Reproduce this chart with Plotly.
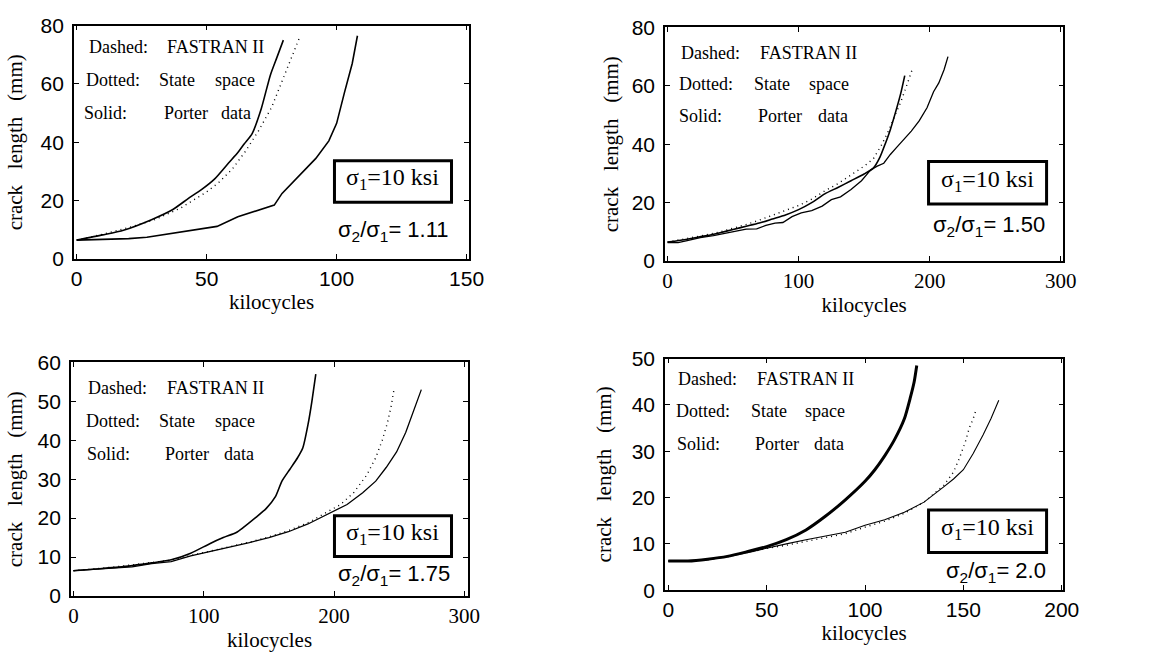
import plotly.graph_objects as go

# ---------------- data (kilocycles, crack length in mm) ----------------
# sigma2/sigma1 = 1.11
p1_fastran_x = [0, 10, 18, 29, 37, 43, 48, 53, 58.5, 62, 64.5, 67.5, 71, 74.5, 77, 79.5]
p1_fastran_y = [6.5, 8.3, 9.9, 13.6, 17.0, 20.8, 23.8, 27.4, 33.0, 36.5, 39.5, 43.0, 51.5, 63.0, 69.0, 75.0]
p1_state_x = [0, 10, 20, 30, 40, 50, 55, 60, 65, 70, 75, 80, 83, 86]
p1_state_y = [6.5, 8.5, 10.8, 13.5, 17.5, 23.0, 26.5, 31.0, 37.0, 44.0, 52.0, 63.0, 70.0, 76.5]
p1_porter_x = [0, 10, 20, 27, 33, 41, 47, 54, 62, 69, 76, 79, 85, 92, 97, 100, 103, 106, 108]
p1_porter_y = [6.5, 6.8, 7.0, 7.5, 8.3, 9.6, 10.4, 11.2, 14.5, 16.5, 18.5, 22.5, 28.0, 34.5, 40.5, 46.5, 57.0, 67.0, 76.5]

# sigma2/sigma1 = 1.50
p2_fastran_x = [0, 10, 20, 30, 40, 50, 60, 70, 80, 90, 100, 110, 120, 130, 140, 150, 157, 162, 166, 170, 174, 178, 181]
p2_fastran_y = [6.5, 7.1, 7.9, 8.7, 9.7, 10.8, 11.9, 13.0, 14.4, 15.8, 17.6, 20.0, 23.0, 25.2, 27.5, 29.8, 31.8, 35.5, 40.0, 45.0, 51.0, 57.5, 63.5]
p2_state_x = [0, 10, 20, 30, 40, 50, 60, 70, 80, 90, 100, 110, 120, 130, 140, 150, 157, 163, 168, 173, 178, 182, 185, 187]
p2_state_y = [6.5, 7.3, 8.1, 9.0, 10.0, 11.2, 12.5, 14.0, 15.6, 17.2, 19.0, 21.2, 24.0, 26.5, 29.5, 32.5, 35.0, 39.5, 44.0, 49.0, 54.5, 59.5, 63.0, 66.0]
p2_porter_x = [0, 8, 15, 25, 35, 45, 52, 60, 68, 75, 82, 88, 95, 102, 110, 118, 125, 132, 140, 148, 155, 160, 165, 170, 175, 180, 186, 192, 198, 203, 207, 211, 214]
p2_porter_y = [6.3, 6.3, 7.0, 8.0, 8.7, 9.5, 10.3, 10.9, 11.0, 12.2, 13.0, 13.2, 15.2, 16.5, 17.3, 18.8, 21.0, 22.0, 24.5, 27.5, 31.2, 32.5, 33.5, 36.5, 39.0, 41.5, 44.5, 48.0, 52.5, 58.0, 61.0, 65.5, 70.0]

# sigma2/sigma1 = 1.75
p3_fastran_x = [0, 20, 40, 60, 75, 90, 105, 115, 125, 130, 140, 148, 155, 160, 166, 172, 176, 180, 183, 186]
p3_fastran_y = [6.5, 7.0, 7.6, 8.5, 9.3, 11.0, 13.5, 15.0, 16.3, 17.5, 20.2, 22.5, 25.5, 29.5, 32.5, 35.5, 38.0, 44.0, 50.0, 57.0]
p3_state_x = [0, 15, 30, 45, 60, 75, 90, 105, 120, 135, 150, 165, 180, 195, 205, 215, 225, 232, 237, 241, 244, 246]
p3_state_y = [6.5, 6.9, 7.4, 8.0, 8.6, 9.2, 10.4, 11.5, 12.6, 13.8, 15.2, 16.8, 18.8, 21.5, 23.5, 26.5, 31.0, 35.5, 40.0, 44.5, 49.0, 53.0]
p3_porter_x = [0, 15, 30, 45, 60, 75, 90, 105, 120, 135, 150, 165, 180, 195, 210, 222, 232, 240, 248, 255, 260, 264, 267]
p3_porter_y = [6.5, 6.8, 7.1, 7.5, 8.3, 8.8, 10.3, 11.4, 12.5, 13.7, 15.0, 16.5, 18.5, 21.0, 23.5, 26.5, 29.5, 33.0, 37.0, 42.0, 46.5, 50.0, 53.0]

# sigma2/sigma1 = 2.0
p4_fastran_x = [0, 10, 20, 30, 40, 50, 60, 70, 80, 90, 100, 105, 110, 115, 120, 123, 125, 126.3]
p4_fastran_y = [6.3, 6.3, 6.7, 7.3, 8.3, 9.4, 10.9, 13.0, 16.0, 19.5, 23.5, 26.0, 29.0, 32.5, 37.0, 41.5, 45.0, 48.5]
p4_state_x = [0, 10, 20, 30, 40, 50, 60, 70, 80, 90, 100, 110, 120, 130, 140, 145, 148, 151, 153, 155, 156.5]
p4_state_y = [6.3, 6.3, 6.6, 7.2, 8.1, 9.0, 9.7, 10.5, 11.4, 12.2, 13.6, 14.9, 16.6, 19.0, 22.6, 25.5, 28.5, 32.0, 35.0, 37.0, 39.0]
p4_porter_x = [0, 10, 20, 30, 40, 50, 60, 70, 80, 90, 100, 110, 120, 130, 140, 145, 150, 155, 160, 164, 168]
p4_porter_y = [6.3, 6.3, 6.6, 7.2, 8.1, 9.1, 10.0, 10.9, 11.7, 12.5, 14.0, 15.2, 16.8, 19.0, 22.3, 24.0, 26.0, 29.5, 33.5, 37.0, 41.0]

stress_ratios = ["1.11", "1.50", "1.75", "2.0"]
x_ticks = [[0, 50, 100, 150], [0, 100, 200, 300], [0, 100, 200, 300], [0, 50, 100, 150, 200]]
y_ticks = [[0, 20, 40, 60, 80], [0, 20, 40, 60, 80], [0, 10, 20, 30, 40, 50, 60], [0, 10, 20, 30, 40, 50]]

# ---------------- layout helpers ----------------
W, H = 1157, 662
SERIF = "Liberation Serif, Times New Roman, serif"
SANS = "Liberation Sans, Arial, sans-serif"
GAP = "\u00a0" * 3
Y_TITLE = "crack" + GAP + "length" + GAP + "(mm)"


def fx(p):
    return p / W


def fy(p):
    return 1 - p / H


panels = [
    dict(box=(72, 474, 14, 256), xr=[-1.1, 151], yr=[0, 80], xfont=SANS, yfont=SANS,
         fastran=(p1_fastran_x, p1_fastran_y), state=(p1_state_x, p1_state_y), porter=(p1_porter_x, p1_porter_y),
         fw=1.6, pw=1.6, ystand=12,
         words=[("Dashed:", 85, 36), ("FASTRAN II", 165, 36), ("Dotted:", 82, 70), ("State", 157, 70),
                ("space", 213, 70), ("Solid:", 80, 105), ("Porter", 162, 105), ("data", 220, 105)],
         sbox=(337, 456, 154, 197), ratio_xy=(397, 227)),
    dict(box=(673, 1078, 16, 258), xr=[-2, 302], yr=[0, 80], xfont=SERIF, yfont=SANS,
         fastran=(p2_fastran_x, p2_fastran_y), state=(p2_state_x, p2_state_y), porter=(p2_porter_x, p2_porter_y),
         fw=1.6, pw=1.3, ystand=7,
         words=[("Dashed:", 687, 42), ("FASTRAN II", 768, 42), ("Dotted:", 685, 75), ("State", 761, 75),
                ("space", 817, 75), ("Solid:", 685, 108), ("Porter", 766, 108), ("data", 827, 108)],
         sbox=(941, 1061, 155, 199), ratio_xy=(1002, 222)),
    dict(box=(69, 473, 363, 605), xr=[-2, 303], yr=[0, 60], xfont=SERIF, yfont=SANS,
         fastran=(p3_fastran_x, p3_fastran_y), state=(p3_state_x, p3_state_y), porter=(p3_porter_x, p3_porter_y),
         fw=1.6, pw=1.3, ystand=9,
         words=[("Dashed:", 84, 390), ("FASTRAN II", 165, 390), ("Dotted:", 82, 424), ("State", 157, 424),
                ("space", 213, 424), ("Solid:", 83, 458), ("Porter", 163, 458), ("data", 223, 458)],
         sbox=(337, 456, 522, 564), ratio_xy=(398, 583)),
    dict(box=(673, 1078, 359, 599), xr=[-1.7, 200.8], yr=[0, 50], xfont=SANS, yfont=SANS,
         fastran=(p4_fastran_x, p4_fastran_y), state=(p4_state_x, p4_state_y), porter=(p4_porter_x, p4_porter_y),
         fw=3.0, pw=1.1, ystand=14,
         words=[("Dashed:", 684, 380), ("FASTRAN II", 765, 380), ("Dotted:", 682, 413), ("State", 758, 413),
                ("space", 813, 413), ("Solid:", 683, 448), ("Porter", 763, 448), ("data", 823, 448)],
         sbox=(941, 1061, 516, 560), ratio_xy=(1010, 580)),
]

fig = go.Figure()
layout = dict(
    width=W, height=H, margin=dict(l=0, r=0, t=0, b=0),
    paper_bgcolor="white", plot_bgcolor="white", showlegend=False,
)
annotations = []
shapes = []

for i, p in enumerate(panels):
    n = "" if i == 0 else str(i + 1)
    xa, ya = "x" + n, "y" + n
    # state-space prediction, Porter test data, FASTRAN II prediction
    fig.add_trace(go.Scatter(x=p["state"][0], y=p["state"][1], mode="lines", xaxis=xa, yaxis=ya,
                             line=dict(color="black", width=1.4, dash="1px,4px")))
    fig.add_trace(go.Scatter(x=p["porter"][0], y=p["porter"][1], mode="lines", xaxis=xa, yaxis=ya,
                             line=dict(color="black", width=p["pw"])))
    fig.add_trace(go.Scatter(x=p["fastran"][0], y=p["fastran"][1], mode="lines", xaxis=xa, yaxis=ya,
                             line=dict(color="black", width=p["fw"], shape="spline", smoothing=0.6)))

    l, r, t, b = p["box"]
    common = dict(showline=True, linecolor="black", linewidth=1.5, mirror="allticks", ticks="inside",
                  ticklen=5, tickwidth=1.3, tickcolor="black", showgrid=False, zeroline=False,
                  fixedrange=True)
    layout["xaxis" + n] = dict(
        common, domain=[fx(l), fx(r)], range=p["xr"], anchor=ya,
        tickmode="array", tickvals=x_ticks[i],
        tickfont=dict(family=p["xfont"], size=21, color="black"),
        title=dict(text="kilocycles", font=dict(family=SERIF, size=21, color="black"), standoff=5),
    )
    layout["yaxis" + n] = dict(
        common, domain=[fy(b), fy(t)], range=p["yr"], anchor=xa,
        tickmode="array", tickvals=y_ticks[i], ticklabelstandoff=4,
        tickfont=dict(family=p["yfont"], size=21, color="black"),
        title=dict(text=Y_TITLE, font=dict(family=SERIF, size=21, color="black"), standoff=p["ystand"]),
    )

    for word, wx, wy in p["words"]:
        annotations.append(dict(text=word, x=fx(wx), y=fy(wy), xref="paper", yref="paper",
                                xanchor="left", yanchor="middle", showarrow=False,
                                font=dict(family=SERIF, size=18, color="black")))

    sl, sr, st, sb = p["sbox"]
    shapes.append(dict(type="rect", xref="paper", yref="paper", x0=fx(sl), x1=fx(sr), y0=fy(sb), y1=fy(st),
                       line=dict(color="black", width=3), fillcolor="white", layer="above"))
    annotations.append(dict(text="σ<sub>1</sub>=10\u00a0ksi", x=fx((sl + sr) / 2), y=fy((st + sb) / 2 - 2),
                            xref="paper", yref="paper", xanchor="center", yanchor="middle", showarrow=False,
                            font=dict(family="Liberation Serif", size=24, color="black")))
    rx, ry = p["ratio_xy"]
    annotations.append(dict(text="σ<sub>2</sub>/σ<sub>1</sub>= " + stress_ratios[i], x=fx(rx), y=fy(ry),
                            xref="paper", yref="paper", xanchor="center", yanchor="middle", showarrow=False,
                            font=dict(family=SANS, size=22, color="black")))

layout["annotations"] = annotations
layout["shapes"] = shapes
fig.update_layout(**layout)
fig.write_html("out.html")
